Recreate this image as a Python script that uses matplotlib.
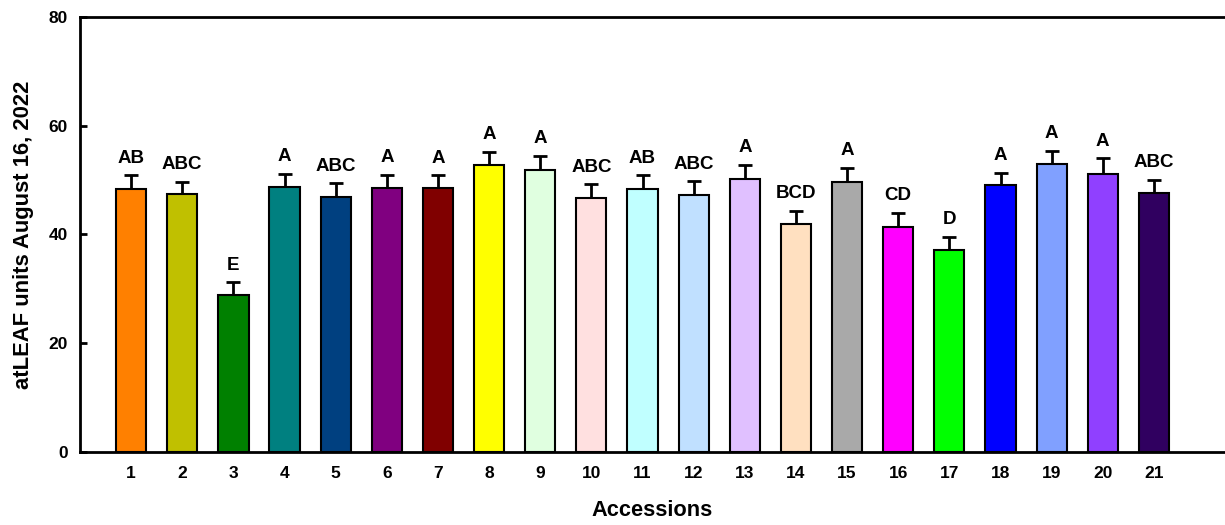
import matplotlib.pyplot as plt
import numpy as np

plt.rcParams['font.family'] = ['Liberation Sans', 'DejaVu Sans']
plt.rcParams['font.weight'] = 'bold'

accessions = [str(i) for i in range(1, 22)]
means = [48.4, 47.4, 28.8, 48.7, 46.9, 48.6, 48.5, 52.7, 51.9, 46.7, 48.4,
         47.3, 50.2, 42.0, 49.6, 41.4, 37.1, 49.1, 52.9, 51.2, 47.7]
errors = [2.5, 2.3, 2.4, 2.4, 2.5, 2.4, 2.4, 2.5, 2.5, 2.5, 2.5,
          2.5, 2.6, 2.4, 2.6, 2.6, 2.5, 2.3, 2.5, 2.8, 2.3]
letters = ['AB', 'ABC', 'E', 'A', 'ABC', 'A', 'A', 'A', 'A', 'ABC', 'AB',
           'ABC', 'A', 'BCD', 'A', 'CD', 'D', 'A', 'A', 'A', 'ABC']
colors = ['#FF8000', '#C0C000', '#008000', '#008080', '#004080', '#800080',
          '#800000', '#FFFF00', '#E0FFE0', '#FFE0E0', '#C0FFFF', '#C0E0FF',
          '#E0C0FF', '#FFE0C0', '#A9A9A9', '#FF00FF', '#00FF00', '#0000FF',
          '#80A0FF', '#9040FF', '#300060']

fig = plt.figure(figsize=(12.25, 5.25), dpi=100)
ax = fig.add_axes([80 / 1225, 1 - 452 / 525, 1 - 80 / 1225, (452 - 17) / 525])

x = np.arange(1, len(means) + 1)
ax.bar(x, means, width=0.59, color=colors, edgecolor='black', linewidth=1.5, zorder=2)
ax.errorbar(x, means, yerr=[np.zeros(len(errors)), errors], fmt='none',
            ecolor='black', elinewidth=2, capsize=5, capthick=2, zorder=1)

for xi, m, e, lab in zip(x, means, errors, letters):
    ax.text(xi, m + e + 1.6, lab, ha='center', va='bottom', fontsize=13.5, fontweight='bold')

ax.set_xlim(0, 22.39)
ax.set_ylim(0, 80)
ax.set_yticks([0, 20, 40, 60, 80])
ax.set_xticks(x)
ax.set_xticklabels(accessions)
ax.tick_params(axis='y', direction='in', length=5, width=2, labelsize=12.5, pad=9)
ax.tick_params(axis='x', length=0, labelsize=12.5, pad=10)
for lab in ax.get_xticklabels() + ax.get_yticklabels():
    lab.set_fontweight('bold')

for side in ['left', 'top', 'bottom']:
    ax.spines[side].set_linewidth(2)
ax.spines['right'].set_visible(False)

ax.set_xlabel('Accessions', fontsize=15.7, fontweight='bold', labelpad=14)
ax.set_ylabel('atLEAF units August 16, 2022', fontsize=15.8, fontweight='bold', labelpad=10)

fig.savefig('out.png', dpi=100)
